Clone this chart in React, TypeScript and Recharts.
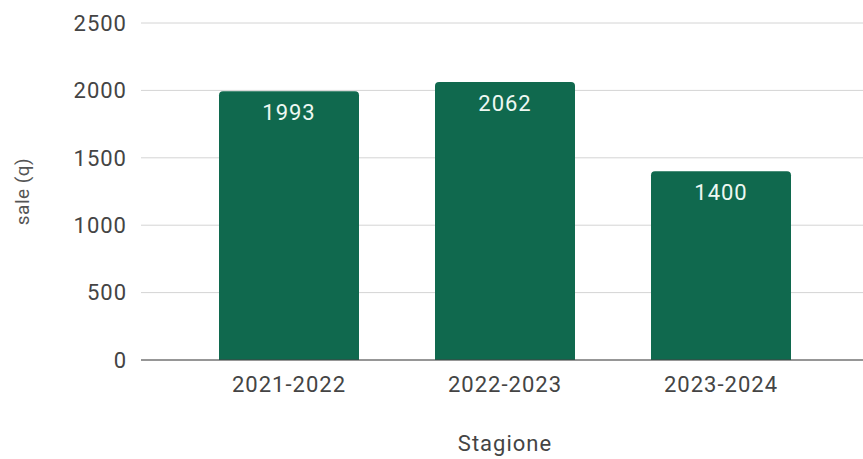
import React from 'react';
import { BarChart, Bar, XAxis, YAxis, CartesianGrid, LabelList } from 'recharts';

const seasons = ['2021-2022', '2022-2023', '2023-2024'];
const saleValues = [1993, 2062, 1400];
const yTicks = [0, 500, 1000, 1500, 2000, 2500];

const FONT = 'Roboto, "Noto Sans", Arial, sans-serif';
const BAR_COLOR = '#10694e';

const data = seasons.map((s, i) => ({ name: s, sale: saleValues[i] }));

const App: React.FC = () => {
  return (
    <div style={{ position: 'absolute', left: 0, top: 0, width: 863, height: 459, background: '#fff', fontFamily: FONT }}>
      <BarChart
        width={863}
        height={459}
        data={data}
        margin={{ top: 23, right: 0, bottom: 0, left: 0 }}
        barSize={140}
      >
        <CartesianGrid vertical={false} stroke="#d4d4d4" />
        <XAxis
          dataKey="name"
          height={99}
          padding={{ left: 40, right: 34 }}
          tickLine={false}
          tickSize={0}
          tickMargin={16}
          axisLine={{ stroke: '#444', strokeWidth: 1 }}
          tick={{ fontSize: 22, fill: '#444', fontFamily: FONT, letterSpacing: 1 }}
          label={{ value: 'Stagione', position: 'insideBottom', offset: 8, dx: 3, fontSize: 22, fill: '#444', fontFamily: FONT, letterSpacing: 1 }}
        />
        <YAxis
          width={141}
          domain={[0, 2500]}
          ticks={yTicks}
          axisLine={false}
          tickLine={false}
          tickSize={0}
          tickMargin={14}
          tick={{ fontSize: 22, fill: '#444', fontFamily: FONT, letterSpacing: 1 }}
          label={{ value: 'sale (q)', angle: -90, position: 'insideLeft', offset: 22, fontSize: 19, fill: '#555', fontFamily: FONT, letterSpacing: 0.5, style: { textAnchor: 'middle' } }}
        />
        <Bar dataKey="sale" fill={BAR_COLOR} radius={[4, 4, 0, 0]} isAnimationActive={false}>
          <LabelList dataKey="sale" position="insideTop" offset={13} fill="#eef8f2" fontSize={22} fontFamily={FONT} letterSpacing={1} />
        </Bar>
      </BarChart>
    </div>
  );
};

export default App;
